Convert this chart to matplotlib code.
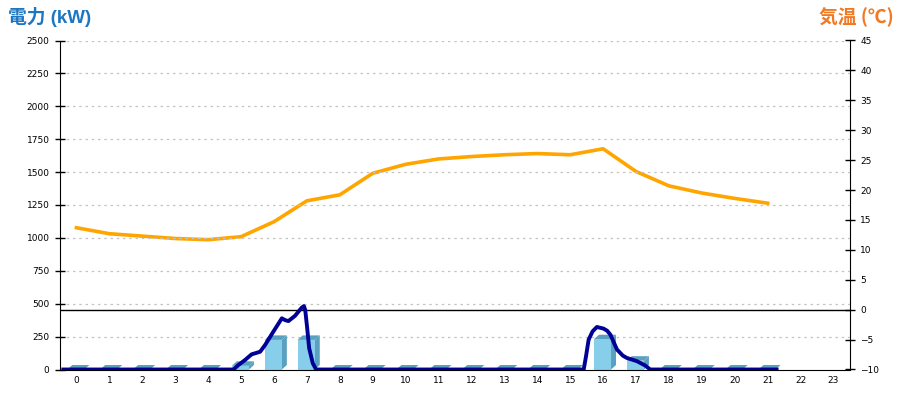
import matplotlib
matplotlib.use("Agg")
import matplotlib.pyplot as plt
from matplotlib.patches import Polygon, Rectangle
import numpy as np

# ---------------- data ----------------
hours = list(range(24))
hour_labels = [str(h) for h in hours]

# hourly power (kW) bars, hours 0..21
bar_hours = list(range(22))
bar_kw = [0, 0, 0, 0, 0, 28, 225, 225, 0, 0, 0, 0, 0, 0, 0, 0, 230, 67, 0, 0, 0, 0]

# temperature (deg C), hours 0..21
temp_hours = list(range(22))
temp_c = [13.7, 12.7, 12.3, 11.9, 11.7, 12.2, 14.7, 18.2, 19.2, 22.8, 24.3,
          25.2, 25.6, 25.9, 26.1, 25.9, 26.9, 23.1, 20.7, 19.5, 18.6, 17.8]

# fine-grained power demand line (kW), x in hour units
power_x = [-0.4, 4.77, 4.92, 5.12, 5.32, 5.58, 5.73, 5.98, 6.24, 6.34, 6.44, 6.64,
           6.84, 6.91, 6.95, 7.01, 7.07, 7.18, 7.28,
           15.41, 15.48, 15.56, 15.68, 15.81, 16.01, 16.12, 16.22, 16.42, 16.6,
           16.72, 17.03, 17.28, 17.43, 21.27]
power_kw = [0, 0, 34, 72, 115, 135, 186, 287, 389, 375, 368, 408,
            469, 482, 452, 313, 161, 47, 0,
            0, 100, 227, 290, 323, 311, 295, 265, 152, 105,
            88, 63, 30, 0, 0]

left_ticks = list(range(0, 2501, 250))
right_ticks = list(range(-10, 46, 5))

# ---------------- figure ----------------
W, H = 900, 400
fig = plt.figure(figsize=(9, 4), dpi=100)
ax_l, ax_r, ax_b, ax_t = 60, 850, 369.5, 40.5
ax = fig.add_axes([ax_l / W, 1 - ax_b / H, (ax_r - ax_l) / W, (ax_b - ax_t) / H])
ax.set_xlim(-0.5, 23.5)
ax.set_ylim(0, 2500)

ax2 = ax.twinx()
ax2.set_ylim(-10, 45)

# grid
for v in left_ticks[1:]:
    ax.axhline(v, color="#c4c4c4", lw=0.9, ls=(0, (2, 3)), zorder=0)

# pixel -> data conversion via axes scales
inv = ax.transData.inverted()
p0 = inv.transform(ax.transData.transform((0, 0)))
px_dx = 5
px_dy = 4.5
d_pt = inv.transform(ax.transData.transform((0, 0)) + np.array([px_dx, px_dy]))
ddx = d_pt[0] - p0[0]
ddy = d_pt[1] - p0[1]

bw = 0.52
front_c = "#87ceeb"
side_c = "#5aa0bf"
for h, v in zip(bar_hours, bar_kw):
    x0 = h - bw / 2 - 0.02
    x1 = x0 + bw
    # top face
    ax.add_patch(Polygon([(x0, v), (x1, v), (x1 + ddx, v + ddy), (x0 + ddx, v + ddy)],
                         closed=True, facecolor=side_c, edgecolor="none", zorder=2))
    if v > 0:
        # side face
        ax.add_patch(Polygon([(x1, 0), (x1 + ddx, ddy), (x1 + ddx, v + ddy), (x1, v)],
                             closed=True, facecolor=side_c, edgecolor="none", zorder=2))
        ax.add_patch(Rectangle((x0, 0), bw, v, facecolor=front_c, edgecolor="none", zorder=2.5))

# temperature line
ax2.plot(temp_hours, temp_c, color="#ffa500", lw=2.6, zorder=3)
ax2.axhline(0, color="black", lw=1, zorder=3)

# power line
ax.plot(power_x, power_kw, color="#000096", lw=2.8, zorder=5, solid_joinstyle="round")
ax.set_zorder(ax2.get_zorder() + 1)
ax.patch.set_visible(False)

# axes styling
for a in (ax, ax2):
    a.spines["top"].set_visible(False)
ax.spines["left"].set_color("black")
ax.spines["bottom"].set_color("black")
ax2.spines["right"].set_color("black")
ax.spines["right"].set_visible(False)
ax2.spines["left"].set_visible(False)
ax2.spines["bottom"].set_visible(False)

tick_font = dict(fontsize=6.5, family="DejaVu Sans")
ax.set_yticks(left_ticks)
ax.set_yticklabels([str(t) for t in left_ticks], **tick_font)
ax.tick_params(axis="y", direction="inout", length=7, width=1, pad=4)
ax2.set_yticks(right_ticks)
ax2.set_yticklabels([str(t).replace("-", "\u2212") for t in right_ticks], **tick_font)
ax2.tick_params(axis="y", direction="inout", length=7, width=1, pad=4)
ax.set_xticks(hours)
ax.set_xticklabels(hour_labels, **tick_font)
ax.tick_params(axis="x", length=0, pad=5)

# titles
title_fam = ["Liberation Sans", "Noto Sans CJK JP", "DejaVu Sans"]
fig.text(8 / W, 1 - 17 / H, "電力 (kW)", color="#1c76c2", fontsize=13.5, fontweight="bold",
         family=title_fam, ha="left", va="center")
fig.text(894 / W, 1 - 17 / H, "気温 (℃)", color="#f07a24", fontsize=13.5, fontweight="bold",
         family=["Noto Sans CJK JP", "DejaVu Sans"], ha="right", va="center")

fig.savefig("out.png", dpi=100)
